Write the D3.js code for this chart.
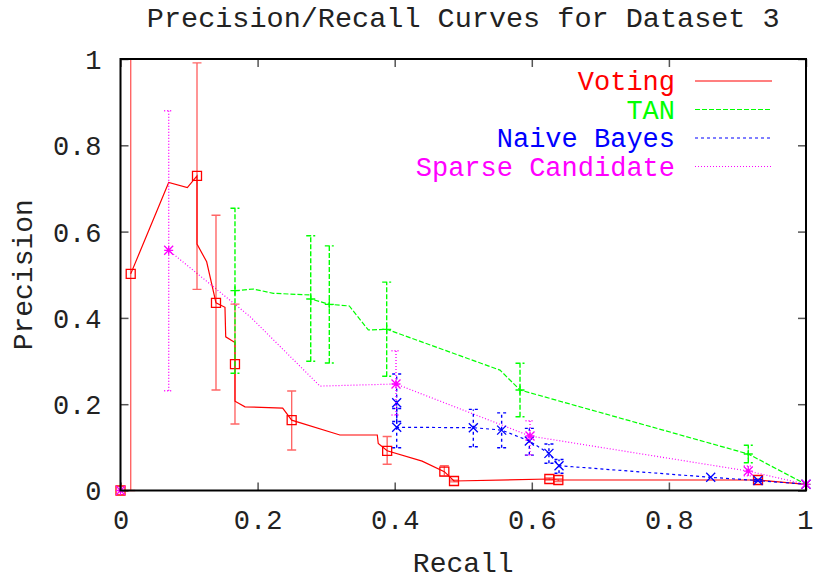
<!DOCTYPE html>
<html><head><meta charset="utf-8">
<script src="https://cdn.jsdelivr.net/npm/d3@7"></script>
<style>
html,body{margin:0;padding:0;background:#fff;}
svg{display:block;}
</style>
</head><body>
<svg id="chart" width="813" height="581"></svg>
<script>
const titleText = "Precision/Recall Curves for Dataset 3";
const xLabel = "Recall";
const yLabel = "Precision";
const tickValues = [0, 0.2, 0.4, 0.6, 0.8, 1];
const tickLabels = ["0", "0.2", "0.4", "0.6", "0.8", "1"];
const seriesNames = ["Voting", "TAN", "Naive Bayes", "Sparse Candidate"];

// Curves [recall, precision]
const votingCurve = [[0.0149,0.502],[0.0703,0.714],[0.0975,0.702],[0.1116,0.729],[0.1116,0.571],[0.1257,0.530],[0.1393,0.435],[0.1524,0.4245],[0.1535,0.356],[0.167,0.343],[0.167,0.293],[0.167,0.207],[0.1816,0.194],[0.2366,0.191],[0.2497,0.163],[0.320,0.1286],[0.3746,0.1286],[0.376,0.109],[0.389,0.092],[0.44,0.068],[0.4724,0.0436],[0.4865,0.022],[0.6256,0.0267],[0.6387,0.0243],[0.930,0.0243],[1,0.0144]];
const tanCurve = [[0.167,0.463],[0.1937,0.467],[0.2229,0.457],[0.2775,0.453],[0.2775,0.4438],[0.3046,0.4315],[0.3338,0.4276],[0.3615,0.372],[0.3883,0.3736],[0.5536,0.279],[0.5828,0.2329],[0.9158,0.0846],[1,0.0144]];
const nbCurve = [[0.4029,0.2035],[0.4029,0.1465],[0.5147,0.1456],[0.556,0.140],[0.5964,0.1147],[0.625,0.086],[0.6397,0.0575],[0.66,0.055],[0.861,0.0306],[0.93,0.023],[1,0.0144]];
const scCurve = [[0.0703,0.5566],[0.189,0.403],[0.291,0.242],[0.4019,0.2468],[0.5974,0.1263],[0.9158,0.045],[1,0.0144]];

// Points with error bars [recall, precision, low, high]
const votingPoints = [[0,0,0,0],[0.0149,0.502,0,1],[0.1116,0.729,0.466,0.991],[0.1393,0.435,0.233,0.638],[0.167,0.293,0.154,0.432],[0.2497,0.163,0.094,0.2306],[0.389,0.092,0.061,0.125],[0.4724,0.0436,0.034,0.0575],[0.4865,0.022,0.02,0.024],[0.6256,0.0267,0.024,0.029],[0.6387,0.0243,0.021,0.027],[0.930,0.0243,0.021,0.027]];
const tanPoints = [[0.167,0.463,0.2716,0.654],[0.2775,0.4438,0.2994,0.5905],[0.3046,0.4315,0.2955,0.567],[0.3883,0.3736,0.2647,0.483],[0.5828,0.2329,0.171,0.2948],[0.9158,0.0846,0.0644,0.1047],[1,0.0144,0.0144,0.0144]];
const nbPoints = [[0.4029,0.2035,0.16,0.27],[0.4029,0.1465,0.0992,0.19],[0.5147,0.1456,0.1015,0.188],[0.556,0.140,0.099,0.180],[0.5964,0.1147,0.082,0.144],[0.625,0.086,0.063,0.1078],[0.6397,0.0575,0.040,0.072],[0.861,0.0306,0.0306,0.0306],[0.93,0.023,0.021,0.025],[1,0.0144,0.0144,0.0144]];
const scPoints = [[0,0,0,0],[0.0703,0.5566,0.2313,0.880],[0.4019,0.2468,0.175,0.324],[0.5974,0.1263,0.0823,0.1618],[0.9158,0.045,0.034,0.0568],[1,0.0144,0.0144,0.0144]];

const FONT = '"Courier New", Courier, "Nimbus Mono PS", "Nimbus Mono L", FreeMono, "Liberation Mono", monospace';
const svg = d3.select("#chart");
const L = 120.5, R = 806, T = 59, B = 490.5;
const x = d3.scaleLinear().domain([0,1]).range([L,R]);
const y = d3.scaleLinear().domain([0,1]).range([B,T]);

const styles = [
  {color:"#ff0000", dash:null, sym:"square", barOpacity:0.6},
  {color:"#00ff00", dash:"5,2", sym:"plus", barOpacity:1},
  {color:"#0000ff", dash:"3,3", sym:"cross", barOpacity:1},
  {color:"#ff00ff", dash:"1,2", sym:"star", barOpacity:1}
];
const curves = [votingCurve, tanCurve, nbCurve, scCurve];
const points = [votingPoints, tanPoints, nbPoints, scPoints];

// Axes with inward ticks (and mirrored)
const fontSize = 27;
const axB = svg.append("g").attr("transform",`translate(0,${B})`)
  .call(d3.axisBottom(x).tickValues(tickValues).tickFormat((d,i)=>tickLabels[i]).tickSizeInner(-8).tickSizeOuter(0).tickPadding(38));
const axL = svg.append("g").attr("transform",`translate(${L},0)`)
  .call(d3.axisLeft(y).tickValues(tickValues).tickFormat((d,i)=>tickLabels[i]).tickSizeInner(-8).tickSizeOuter(0).tickPadding(19));
const axT = svg.append("g").attr("transform",`translate(0,${T})`)
  .call(d3.axisTop(x).tickValues(tickValues).tickFormat("").tickSizeInner(-8).tickSizeOuter(0));
const axR = svg.append("g").attr("transform",`translate(${R},0)`)
  .call(d3.axisRight(y).tickValues(tickValues).tickFormat("").tickSizeInner(-8).tickSizeOuter(0));
[axB,axL,axT,axR].forEach(a=>{
  a.attr("font-family",FONT);
  a.select(".domain").remove();
  a.selectAll(".tick line").attr("stroke","#555").attr("stroke-width",1.5);
  a.selectAll("text").attr("font-family",FONT).attr("font-size",fontSize).attr("fill","#222");
});
axB.selectAll("text").attr("dy","0em");
axB.selectAll(".tick").filter(d=>d===1).select("text").attr("text-anchor","end").attr("x",7);
axL.selectAll("text").attr("dy","0.35em");

// data layer
const clipId = "plotclip";
svg.append("clipPath").attr("id",clipId).append("rect").attr("x",L-8).attr("y",T-2).attr("width",R-L+16).attr("height",B-T+10);
const dataG = svg.append("g").attr("clip-path",`url(#${clipId})`);

const line = d3.line().x(d=>x(d[0])).y(d=>y(d[1]));

function symPath(type, cx, cy){
  const s = 4.5;
  if(type==="square") return `M${cx-s},${cy-s}h${2*s}v${2*s}h${-2*s}Z`;
  if(type==="plus") return `M${cx-s},${cy}h${2*s}M${cx},${cy-s}v${2*s}`;
  if(type==="cross") return `M${cx-s},${cy-s}L${cx+s},${cy+s}M${cx-s},${cy+s}L${cx+s},${cy-s}`;
  if(type==="star") return `M${cx-s},${cy}h${2*s}M${cx},${cy-s}v${2*s}M${cx-s},${cy-s}L${cx+s},${cy+s}M${cx-s},${cy+s}L${cx+s},${cy-s}`;
}

curves.forEach((c,i)=>{
  const st = styles[i];
  dataG.append("path").datum(c).attr("d",line).attr("fill","none")
    .attr("stroke",st.color).attr("stroke-width",1.2)
    .attr("stroke-dasharray",st.dash);
});

points.forEach((pts,i)=>{
  const st = styles[i];
  const g = dataG.append("g");
  pts.forEach(p=>{
    const cx = x(p[0]), lo = y(p[2]), hi = y(p[3]);
    if(Math.abs(lo-hi) > 1){
      g.append("path")
        .attr("d",`M${cx},${lo}V${hi}M${cx-4.5},${lo}h9M${cx-4.5},${hi}h9`)
        .attr("fill","none").attr("stroke",st.color).attr("stroke-width",1.4)
        .attr("stroke-opacity",st.barOpacity).attr("stroke-dasharray",st.dash);
    }
    g.append("path").attr("d",symPath(st.sym,cx,y(p[1])))
      .attr("fill","none").attr("stroke",st.color).attr("stroke-width",1.3);
  });
});

// Frame
svg.append("rect").attr("x",L).attr("y",T).attr("width",R-L).attr("height",B-T)
  .attr("fill","none").attr("stroke","#000").attr("stroke-width",2);

// Title & labels
svg.append("text").attr("x",(L+R)/2).attr("y",27).attr("text-anchor","middle")
  .attr("font-family",FONT).attr("font-size",28.5).attr("fill","#222").text(titleText);
svg.append("text").attr("x",(L+R)/2).attr("y",572).attr("text-anchor","middle")
  .attr("font-family",FONT).attr("font-size",28).attr("fill","#222").text(xLabel);
svg.append("text").attr("transform",`translate(32,${(T+B)/2}) rotate(-90)`).attr("text-anchor","middle")
  .attr("font-family",FONT).attr("font-size",28).attr("fill","#222").text(yLabel);

// Legend
const legRowY = [81, 109.5, 138, 166.5];
seriesNames.forEach((n,i)=>{
  const st = styles[i];
  svg.append("text").attr("x",675).attr("y",legRowY[i]).attr("dy","0.35em")
    .attr("text-anchor","end").attr("font-family",FONT).attr("font-size",fontSize).attr("fill",st.color).text(n);
  svg.append("line").attr("x1",695).attr("x2",772).attr("y1",legRowY[i]).attr("y2",legRowY[i])
    .attr("stroke",st.color).attr("stroke-width",1.2).attr("stroke-dasharray",st.dash);
});
</script>
</body></html>
